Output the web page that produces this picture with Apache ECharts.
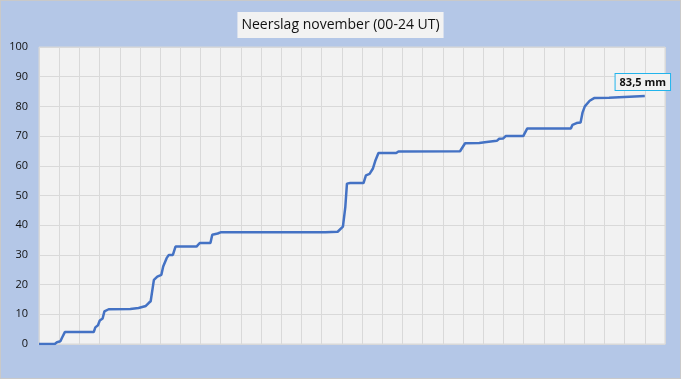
<!DOCTYPE html>
<html>
<head>
<meta charset="utf-8">
<script src="https://cdn.jsdelivr.net/npm/echarts@6/dist/echarts.min.js"></script>
<style>
html,body{margin:0;padding:0;background:#b4c7e7;}
#c{width:681px;height:379px;box-sizing:border-box;border:1px solid #c9c9c9;}
</style>
</head>
<body>
<div id="c"></div>
<script>
// Chart data (days since 1 November 00 UT, cumulative precipitation in mm)
const titleText = 'Neerslag november (00-24 UT)';
const endLabel = '83,5 mm';
const yTicks = [0, 10, 20, 30, 40, 50, 60, 70, 80, 90, 100];
const days = [0, 0.78, 0.89, 1.06, 1.14, 1.28, 2.71, 2.79, 2.92, 3.01, 3.15, 3.24, 3.45, 4.52, 4.60, 4.93, 5.02, 5.29, 5.43, 5.53, 5.69, 5.86, 6.06, 6.15, 6.32, 6.43, 6.63, 6.76, 7.80, 7.96, 8.49, 8.58, 8.85, 8.99, 14.18, 14.26, 14.79, 15.05, 15.17, 15.25, 15.41, 16.07, 16.19, 16.37, 16.53, 16.65, 16.81, 17.69, 17.80, 20.85, 21.10, 21.80, 21.87, 22.17, 22.25, 22.67, 22.79, 22.99, 23.11, 23.98, 24.18, 26.34, 26.42, 26.62, 26.82, 26.92, 27.03, 27.27, 27.49, 28.23, 28.30, 30.0];
const rain = [0, 0, 0.6, 0.9, 2.1, 4.0, 4.0, 5.6, 6.3, 7.9, 8.6, 11.0, 11.7, 11.8, 12.1, 12.1, 12.6, 12.8, 13.8, 14.4, 21.6, 22.7, 23.3, 26.1, 28.9, 30.0, 30.0, 32.8, 32.8, 34.0, 34.0, 36.8, 37.2, 37.6, 37.6, 37.8, 37.8, 39.5, 46.2, 54.0, 54.2, 54.2, 56.8, 57.3, 59.0, 61.6, 64.3, 64.3, 64.8, 64.9, 67.6, 67.7, 67.9, 68.0, 68.2, 68.4, 69.1, 69.2, 70.0, 70.0, 72.6, 72.6, 73.8, 74.4, 74.6, 78.0, 80.0, 81.9, 82.8, 82.9, 83.4, 83.5];

const data = days.map((d, i) => [d, rain[i]]);
const lastPoint = [days[days.length - 1], rain[rain.length - 1]];

const chart = echarts.init(document.getElementById('c'), null, {renderer: 'canvas'});
chart.setOption({
  backgroundColor: '#b4c7e7',
  animation: false,
  title: {
    text: titleText, left: 'center', top: 11,
    backgroundColor: '#f2f2f2', padding: [6, 4, 6, 4],
    textStyle: {fontFamily: 'Open Sans', fontSize: 14, fontWeight: 'normal', color: '#111'}
  },
  grid: {left: 38, right: 15, top: 46, bottom: 34, show: true, backgroundColor: '#f2f2f2', borderColor: '#d9d9d9', borderWidth: 1},
  xAxis: {
    type: 'value', min: 0, max: 31, interval: 1,
    axisLabel: {show: false}, axisTick: {show: false},
    axisLine: {show: true, lineStyle: {color: '#d9d9d9'}},
    splitLine: {show: true, lineStyle: {color: '#d9d9d9', width: 1}}
  },
  yAxis: {
    type: 'value', min: yTicks[0], max: yTicks[yTicks.length - 1], interval: 10,
    axisLine: {show: false}, axisTick: {show: false},
    axisLabel: {margin: 11, fontFamily: 'Open Sans', fontSize: 11, color: '#111'},
    splitLine: {show: true, lineStyle: {color: '#d9d9d9', width: 1}}
  },
  series: [{
    type: 'line', data: data, showSymbol: false, symbol: 'none',
    lineStyle: {color: '#4472c4', width: 2.5}, itemStyle: {color: '#4472c4'},
    markPoint: {
      symbol: 'circle', symbolSize: 0, silent: true,
      data: [{coord: lastPoint}],
      label: {
        show: true, formatter: endLabel, position: 'top', distance: 6, offset: [-2, 0],
        fontFamily: 'Open Sans', fontSize: 11, fontWeight: 'bold', color: '#111',
        backgroundColor: '#f2f2f2', borderColor: '#22b4ec', borderWidth: 1,
        padding: [3, 4, 2, 4]
      }
    }
  }]
});
</script>
</body>
</html>
